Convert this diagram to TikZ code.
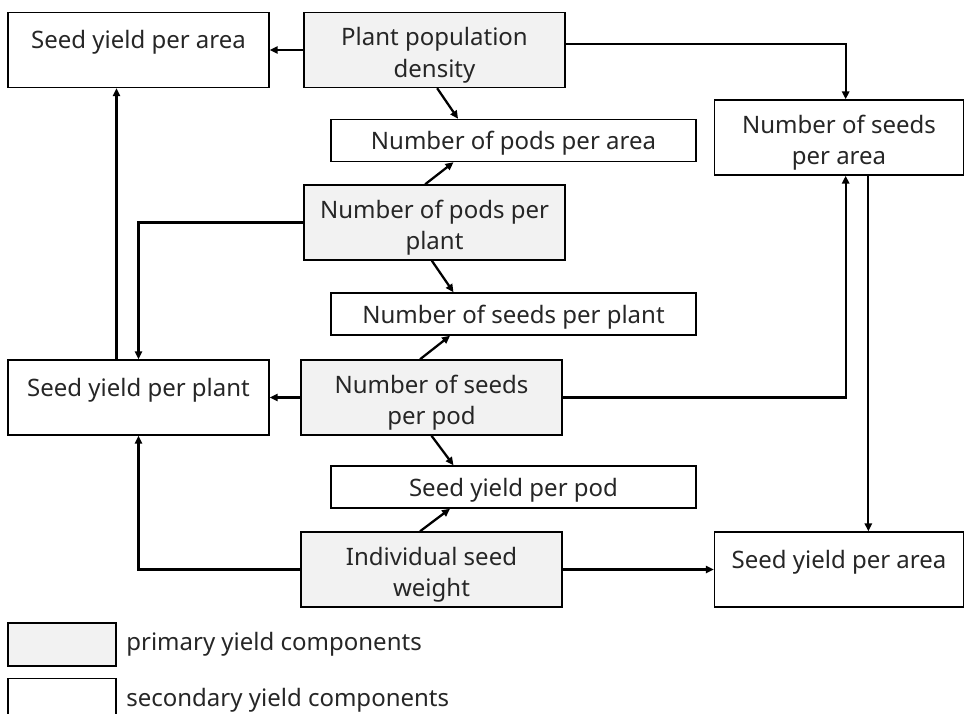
\documentclass[tikz,border=0pt]{standalone}
\usepackage{fontspec}
\setmainfont{Noto Sans}
\usepackage{tikz}
\usetikzlibrary{positioning,arrows.meta}
\tikzset{
  flowarrow/.style={-{Triangle[length=6pt, width=5.5pt]}, line width=1.7pt},
  primbox/.style={draw, line width=1.1pt, fill=gray!10, minimum width=195.75pt, minimum height=56.25pt, align=center, inner sep=2pt, execute at begin node={\rule{0pt}{45pt}}},
  secbox/.style={draw, line width=1.1pt, fill=white, minimum width=195.75pt, minimum height=56.25pt, align=center, inner sep=2pt, execute at begin node={\rule{0pt}{45pt}}},
  widebox/.style={draw, line width=1.1pt, fill=white, minimum width=273.75pt, minimum height=31.5pt, align=center, inner sep=2pt, execute at begin node={\rule{0pt}{18pt}}},
  legbox/.style={draw, line width=1.1pt, minimum width=81pt, minimum height=32.25pt, inner sep=0pt},
  legtext/.style={inner sep=0pt}
}

\begin{document}
\begin{tikzpicture}[x=0.75pt, y=-0.75pt, every node/.style={font=\fontsize{18}{23.5}\selectfont, text=black!85}]
  \useasboundingbox (0,0) rectangle (964,714);
  % top row
  \node[secbox] (areaL) at (138.5,50) {Seed yield per area\\~};
  \node[primbox] (dens) at (434.5,50) {Plant population\\density};
  \node[widebox] (podsA) at (513.5,140.5) {Number of pods per area};
  \node[secbox, minimum width=186.75pt] (seedsA) at (839,137.5) {Number of seeds\\per area};
  % middle
  \node[primbox] (podsP) at (434.5,222.5) {Number of pods per\\plant};
  \node[widebox] (seedsP) at (513.5,314) {Number of seeds per plant};
  \node[secbox] (yieldP) at (138.5,397.5) {Seed yield per plant\\~};
  \node[primbox] (seedsPod) at (431.5,397.5) {Number of seeds\\per pod};
  % bottom
  \node[widebox] (yieldPod) at (513.5,487) {Seed yield per pod};
  \node[primbox] (weight) at (431.5,569.5) {Individual seed\\weight};
  \node[secbox, minimum width=186.75pt] (areaR) at (839,569.5) {Seed yield per area\\~};
  % legend
  \node[legbox, fill=gray!10] (legp) at (62,644.5) {};
  \node[legbox, fill=white] (legs) at (62,700) {};
  \node[legtext, right=7pt of legp] (legpt) {primary yield components};
  \node[legtext, right=7pt of legs] (legst) {secondary yield components};

  \draw[flowarrow] (dens.west) -- (areaL.east);
  \draw[flowarrow] ([yshift=4.5pt]dens.east) -| ([xshift=5pt]seedsA.north);
  \draw[flowarrow] ([xshift=2pt]dens.south) -- ([xshift=-41.6pt]podsA.north);
  \draw[flowarrow] ([xshift=-7pt]podsP.north) -- ([xshift=-45pt]podsA.south);
  \draw[flowarrow] (podsP.west) -| (yieldP.north);
  \draw[flowarrow] ([xshift=-2pt]podsP.south) -- ([xshift=-45pt]seedsP.north);
  \draw[flowarrow] ([xshift=-8.6pt]seedsPod.north) -- ([xshift=-47.6pt]seedsP.south);
  \draw[flowarrow] (seedsPod.west) -- (yieldP.east);
  \draw[flowarrow] (seedsPod.east) -| ([xshift=5pt]seedsA.south);
  \draw[flowarrow] (seedsPod.south) -- ([xshift=-45pt]yieldPod.north);
  \draw[flowarrow] ([xshift=-8.6pt]weight.north) -- ([xshift=-47.6pt]yieldPod.south);
  \draw[flowarrow] (weight.west) -| (yieldP.south);
  \draw[flowarrow] (weight.east) -- (areaR.west);
  \draw[flowarrow] ([xshift=-16.5pt]yieldP.north) -- ([xshift=-16.5pt]areaL.south);
  \draw[flowarrow] ([xshift=22pt]seedsA.south) -- ([xshift=22pt]areaR.north);
\end{tikzpicture}
\end{document}
